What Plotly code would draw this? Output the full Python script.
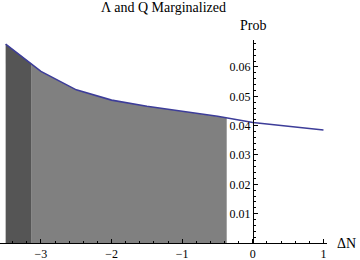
import plotly.graph_objects as go

# Curve data (ΔN vs Prob)
dN = [-3.5, -3.0, -2.5, -2.0, -1.5, -1.0, -0.5, 0.0, 0.5, 1.0]
prob = [0.0678, 0.0585, 0.0522, 0.0487, 0.0466, 0.0449, 0.0432, 0.0411, 0.0398, 0.0385]

# Shaded regions
dark_x = [-3.5, -3.14]
dark_y = [0.0678, 0.0612]
light_x = [-3.14, -3.0, -2.5, -2.0, -1.5, -1.0, -0.5, -0.37]
light_y = [0.0612, 0.0585, 0.0522, 0.0487, 0.0466, 0.0449, 0.0432, 0.0427]

x_ticks = [-3, -2, -1, 0, 1]
y_ticks = [0.01, 0.02, 0.03, 0.04, 0.05, 0.06]
y_labels = ["0.01", "0.02", "0.03", "0.04", "0.05", "0.06"]

xmin, xmax = -3.58, 1.05
ymin, ymax = 0.0, 0.0692
FONT = "Liberation Serif"

fig = go.Figure()
fig.add_trace(go.Scatter(x=dark_x, y=dark_y, mode="lines", fill="tozeroy",
                         fillcolor="#555555", line=dict(width=0), hoverinfo="skip"))
fig.add_trace(go.Scatter(x=light_x, y=light_y, mode="lines", fill="tozeroy",
                         fillcolor="#808080", line=dict(width=0), hoverinfo="skip"))
fig.add_trace(go.Scatter(x=dN, y=prob, mode="lines",
                         line=dict(color="#3d3d99", width=1.6)))

pos = (0 - xmin) / (xmax - xmin)

fig.update_layout(
    width=360, height=260,
    margin=dict(l=0, r=33, t=40, b=17, autoexpand=False),
    paper_bgcolor="white", plot_bgcolor="white",
    showlegend=False,
    font=dict(family=FONT, size=12, color="black"),
    xaxis=dict(range=[xmin, xmax], showgrid=False, zeroline=False,
               showline=True, linecolor="black", linewidth=1,
               tickvals=x_ticks, ticks="inside", ticklen=4, tickcolor="black",
               minor=dict(ticks="inside", dtick=0.2, tick0=0, ticklen=2.5, tickcolor="black"),
               tickfont=dict(family=FONT, size=12)),
    yaxis=dict(range=[ymin, ymax], showgrid=False, zeroline=False,
               showline=True, linecolor="black", linewidth=1,
               anchor="free", position=pos,
               tickvals=y_ticks, ticktext=y_labels, ticks="inside", ticklen=4,
               tickcolor="black",
               minor=dict(ticks="inside", dtick=0.002, tick0=0, ticklen=2.5, tickcolor="black"),
               tickfont=dict(family=FONT, size=12)),
)

fig.add_annotation(text="Λ and Q Marginalized", xref="paper", yref="paper",
                   x=164/327, y=1, yshift=33, xanchor="center", yanchor="middle",
                   showarrow=False, font=dict(family=FONT, size=14))
fig.add_annotation(text="Prob", xref="paper", yref="paper", x=pos, y=1, yshift=15,
                   xanchor="center", yanchor="middle",
                   showarrow=False, font=dict(family=FONT, size=14))
fig.add_annotation(text="ΔN", xref="paper", yref="paper", x=1, y=0, xshift=19,
                   yshift=0, xanchor="center", yanchor="middle",
                   showarrow=False, font=dict(family=FONT, size=14))

fig.write_html("out.html", config={"displayModeBar": False},
               post_script="document.body.style.margin='0';")
